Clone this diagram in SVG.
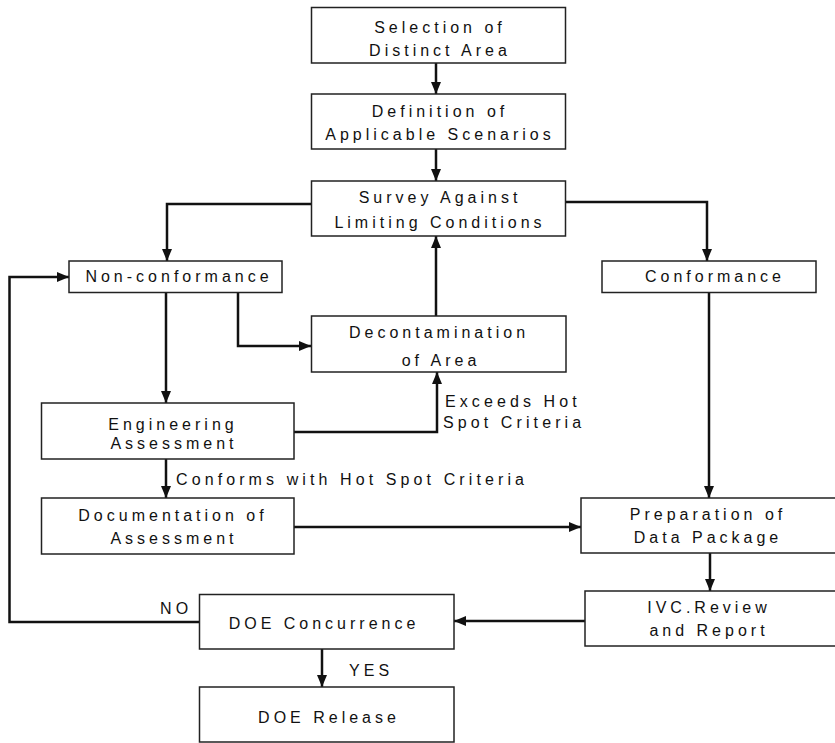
<svg xmlns="http://www.w3.org/2000/svg" width="835" height="743" viewBox="0 0 835 743">
<style>
.box{fill:#fff;stroke:#222;stroke-width:1.5}
.t{font-family:"Liberation Sans",Arial,sans-serif;font-size:16px;letter-spacing:4px;fill:#111;text-anchor:middle}
.l{font-family:"Liberation Sans",Arial,sans-serif;font-size:16px;letter-spacing:4.1px;fill:#111}
.c{fill:none;stroke:#111;stroke-width:2.5}
</style>
<defs>
<marker id="ah" viewBox="0 0 12 10" refX="12" refY="5" markerWidth="12" markerHeight="10" markerUnits="userSpaceOnUse" orient="auto">
<path d="M0,0 L12,5 L0,10 Z" fill="#111"/>
</marker>
</defs>
<rect width="835" height="743" fill="#fff"/>
<g id="connectors">
<path class="c" d="M436,63 V94" marker-end="url(#ah)"/>
<path class="c" d="M436,149 V181" marker-end="url(#ah)"/>
<path class="c" d="M311,204 H167 V261" marker-end="url(#ah)"/>
<path class="c" d="M566,202 H707 V261" marker-end="url(#ah)"/>
<path class="c" d="M166,293 V403" marker-end="url(#ah)"/>
<path class="c" d="M238,293 V346 H311" marker-end="url(#ah)"/>
<path class="c" d="M436,316 V236" marker-end="url(#ah)"/>
<path class="c" d="M294,432 H437 V372" marker-end="url(#ah)"/>
<path class="c" d="M166,459 V498" marker-end="url(#ah)"/>
<path class="c" d="M294,527 H581" marker-end="url(#ah)"/>
<path class="c" d="M709,293 V498" marker-end="url(#ah)"/>
<path class="c" d="M710,553 V591" marker-end="url(#ah)"/>
<path class="c" d="M585,621 H454" marker-end="url(#ah)"/>
<path class="c" d="M200,622 H9.5 V277 H69" marker-end="url(#ah)"/>
<path class="c" d="M322,649 V687" marker-end="url(#ah)"/>
<text class="l" x="445" y="407">Exceeds Hot</text>
<text class="l" x="443" y="428">Spot Criteria</text>
<text class="l" x="176" y="485">Conforms with Hot Spot Criteria</text>
<text class="l" x="160" y="614">NO</text>
<text class="l" x="349" y="676">YES</text>
</g>
<g id="selection">
<rect class="box" x="311.5" y="7.5" width="254" height="55.5"/>
<text class="t" x="440" y="33">Selection of</text>
<text class="t" x="440" y="56">Distinct Area</text>
</g>
<g id="definition">
<rect class="box" x="311.5" y="94" width="254" height="55"/>
<text class="t" x="440" y="117">Definition of</text>
<text class="t" x="440" y="140">Applicable Scenarios</text>
</g>
<g id="survey">
<rect class="box" x="311.5" y="181" width="254" height="55"/>
<text class="t" x="440" y="203">Survey Against</text>
<text class="t" x="440" y="228">Limiting Conditions</text>
</g>
<g id="nonconformance">
<rect class="box" x="69" y="261" width="213" height="31.5"/>
<text class="t" x="179" y="282">Non-conformance</text>
</g>
<g id="conformance">
<rect class="box" x="602" y="261" width="214" height="31.5"/>
<text class="t" x="715" y="282">Conformance</text>
</g>
<g id="decontamination">
<rect class="box" x="311.5" y="316" width="254.5" height="56"/>
<text class="t" x="439" y="338">Decontamination</text>
<text class="t" x="441" y="366">of Area</text>
</g>
<g id="engineering">
<rect class="box" x="41.5" y="403" width="252.5" height="56"/>
<text class="t" x="173" y="430">Engineering</text>
<text class="t" x="174" y="449">Assessment</text>
</g>
<g id="documentation">
<rect class="box" x="41.5" y="498" width="252.5" height="56"/>
<text class="t" x="173" y="521">Documentation of</text>
<text class="t" x="174" y="544">Assessment</text>
</g>
<g id="preparation">
<rect class="box" x="581" y="498" width="256" height="55"/>
<text class="t" x="708" y="520">Preparation of</text>
<text class="t" x="708" y="543">Data Package</text>
</g>
<g id="ivc">
<rect class="box" x="585" y="591" width="252" height="55"/>
<text class="t" x="709" y="613">IVC.Review</text>
<text class="t" x="709" y="636">and Report</text>
</g>
<g id="concurrence">
<rect class="box" x="199.5" y="594.5" width="254.5" height="54.5"/>
<text class="t" x="324" y="629">DOE Concurrence</text>
</g>
<g id="release">
<rect class="box" x="199.5" y="687" width="254.5" height="55"/>
<text class="t" x="329" y="723">DOE Release</text>
</g>
</svg>
